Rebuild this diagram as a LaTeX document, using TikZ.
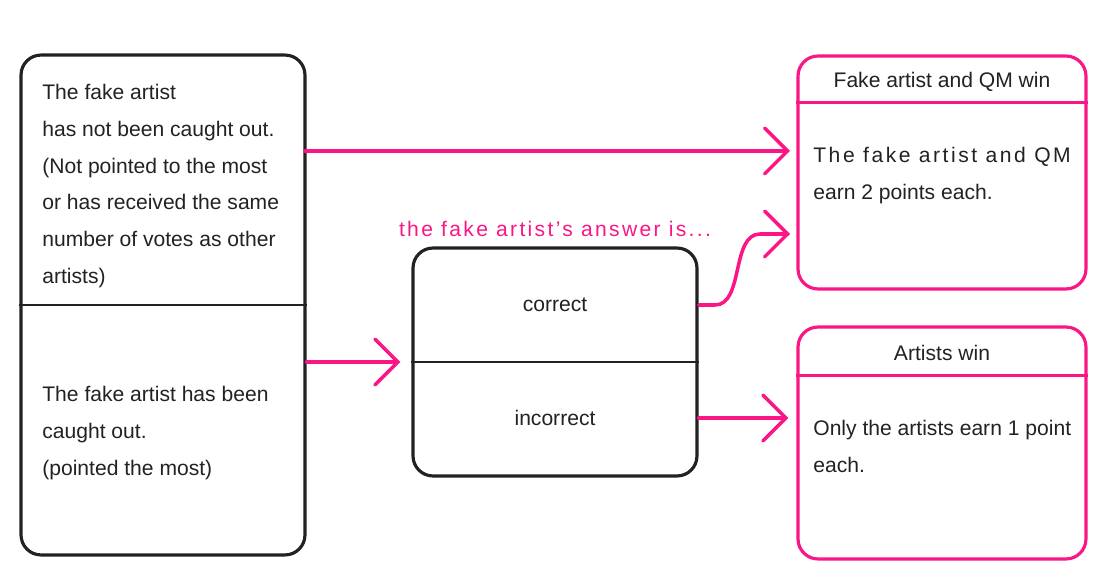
\documentclass[tikz,border=0pt]{standalone}
\usepackage{fontspec}
\setmainfont{Liberation Sans}
\usetikzlibrary{arrows.meta}
\definecolor{hotpink}{RGB}{250,22,132}
\definecolor{ink}{RGB}{34,34,34}
\begin{document}
\begin{tikzpicture}[x=0.02cm,y=-0.02cm,
    font=\fontsize{12}{21}\selectfont,
    blackbox/.style={draw=ink,line width=1.8pt,rounded corners=0.4cm,inner sep=0pt},
    pinkbox/.style={draw=hotpink,line width=1.8pt,rounded corners=0.4cm,inner sep=0pt},
    txt/.style={align=left,anchor=west,inner sep=0pt,text=ink},
    link/.style={hotpink,line width=2pt,line cap=round,-{Straight Barb[length=0.46cm,width=0.92cm,line cap=round]}}]
    \useasboundingbox (0,0) rectangle (1110,580);

    % Left box
    \node[blackbox,minimum width=5.68cm,minimum height=10cm] (vote) at (163,305) {};
    \draw[ink,line width=1pt] (vote.west) -- (vote.east);
    \node[txt] (notcaught) at (42,186) {The fake artist\\has not been caught out.\\(Not pointed to the most\\or has received the same\\number of votes as other\\artists)};
    \node[txt] (caught) at (42,433) {The fake artist has been\\caught out.\\(pointed the most)};

    % Answer box
    \node[blackbox,minimum width=5.68cm,minimum height=4.56cm] (answer) at (555,362) {};
    \draw[ink,line width=1pt] (answer.west) -- (answer.east);
    \node[text=ink] (correct) at (555,305) {correct};
    \node[text=ink] (incorrect) at (555,418) {incorrect};
    \node[text=hotpink] (question) at (555,229) {\addfontfeatures{LetterSpace=11}the fake artist’s answer is...};

    % Fake artist and QM win
    \node[pinkbox,minimum width=5.76cm,minimum height=4.66cm] (fakewin) at (942,172.5) {};
    \draw[hotpink,line width=1.8pt] ([yshift=-0.96cm]fakewin.north west) -- ([yshift=-0.96cm]fakewin.north east);
    \node[text=ink] (fakehead) at (942,82) {Fake artist and QM win};
    \node[txt] (fakebody) at (813,175.5) {{\addfontfeatures{LetterSpace=12}The fake artist and QM}\\earn 2 points each.};

    % Artists win
    \node[pinkbox,minimum width=5.76cm,minimum height=4.64cm] (artistwin) at (942,443) {};
    \draw[hotpink,line width=1.8pt] ([yshift=-1cm]artistwin.north west) -- ([yshift=-1cm]artistwin.north east);
    \node[text=ink] (artisthead) at (942,353) {Artists win};
    \node[txt] (artistbody) at (813,446.5) {Only the artists earn 1 point\\each.};

    % Arrows
    \coordinate (from1) at (305,151);
    \coordinate (to1) at (790,151);
    \coordinate (to4) at (790,234);
    \draw[link] (from1) -- (to1);
    \draw[link] (vote.east |- answer.west) -- ([xshift=-0.22cm]answer.west);
    \draw[link] (answer.east |- incorrect) -- ([xshift=-0.16cm]artistwin.west |- incorrect);
    \draw[link] (answer.east |- correct) -- (715,305) .. controls (744,305) and (731,234) .. (760,234) -- (to4);
\end{tikzpicture}
\end{document}
